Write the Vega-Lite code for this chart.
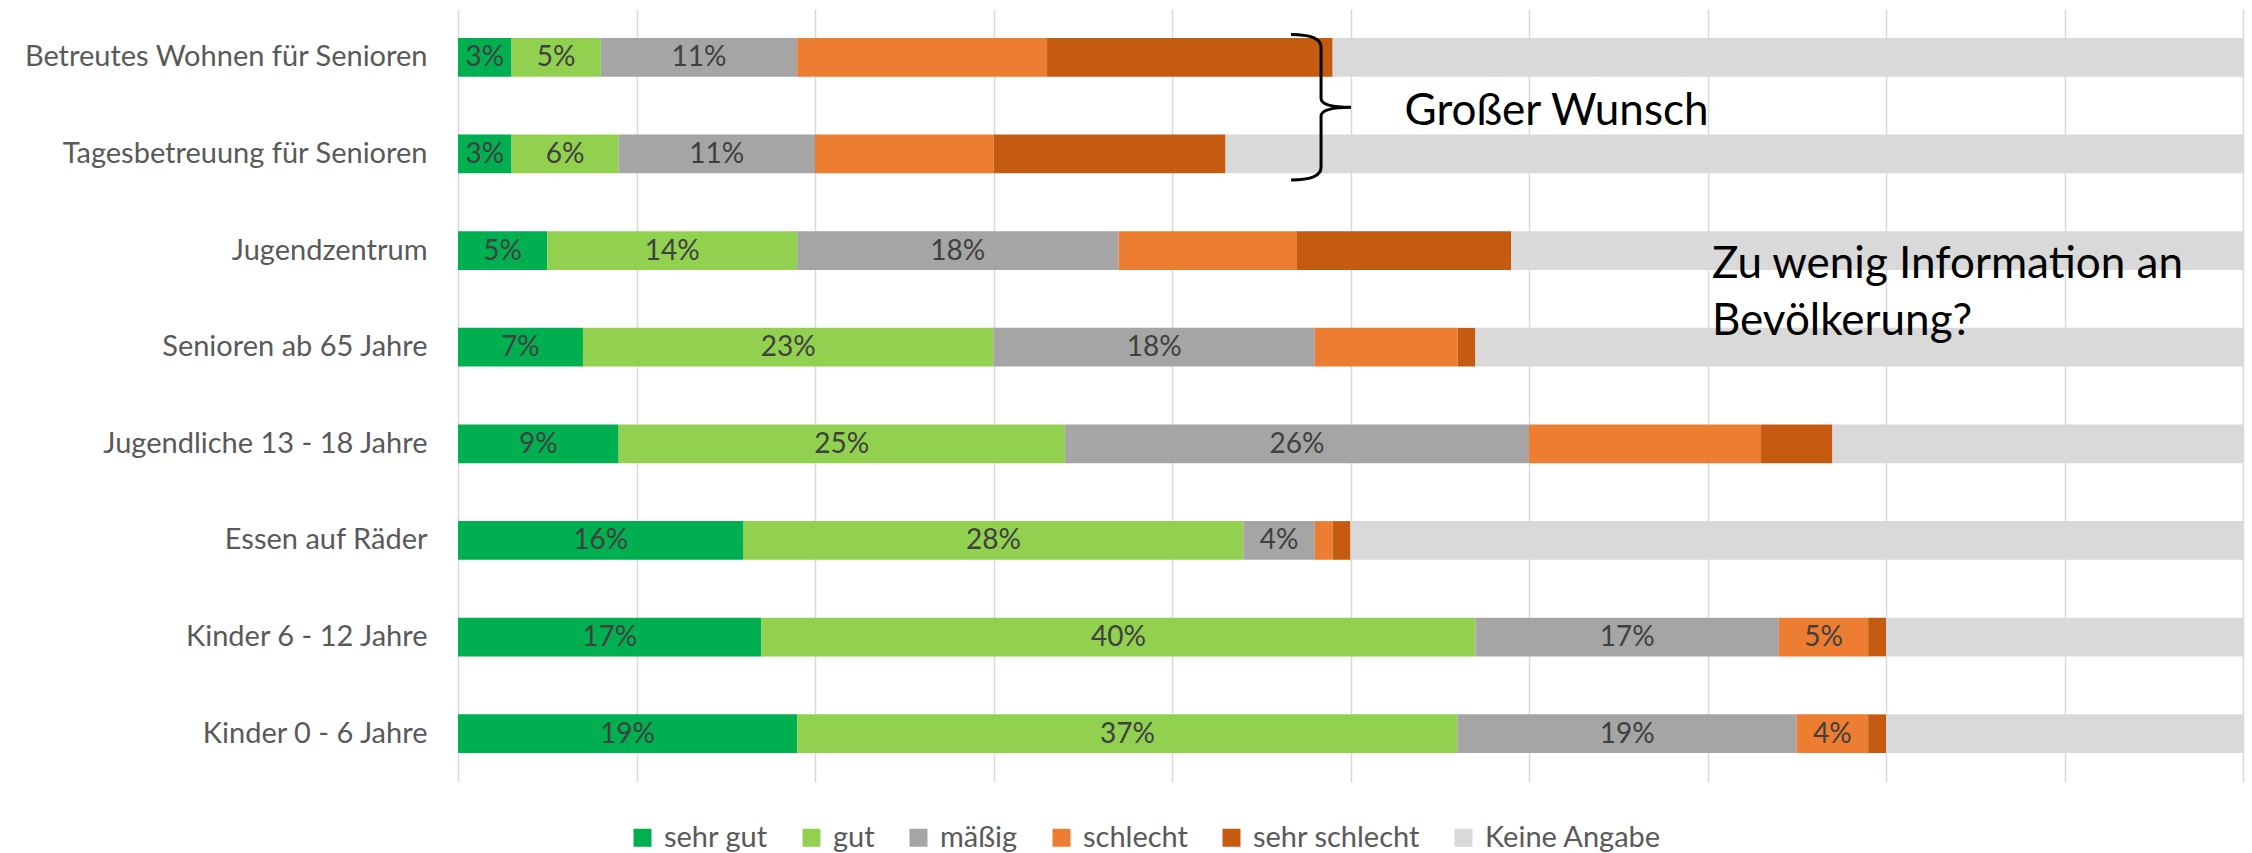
{
  "$schema": "https://vega.github.io/schema/vega-lite/v6.json",
  "width": 1785,
  "height": 773,
  "autosize": {"type": "none"},
  "padding": {"left": 458, "top": 9, "right": 9, "bottom": 71},
  "background": "white",
  "config": {"view": {"stroke": null}, "font": "Lato"},
  "datasets": {
    "umfrage": [
      {"item": "Betreutes Wohnen für Senioren", "bewertung": "sehr gut", "nr": 1, "anteil": 0.03},
      {"item": "Betreutes Wohnen für Senioren", "bewertung": "gut", "nr": 2, "anteil": 0.05},
      {"item": "Betreutes Wohnen für Senioren", "bewertung": "mäßig", "nr": 3, "anteil": 0.11},
      {"item": "Betreutes Wohnen für Senioren", "bewertung": "schlecht", "nr": 4, "anteil": 0.14},
      {"item": "Betreutes Wohnen für Senioren", "bewertung": "sehr schlecht", "nr": 5, "anteil": 0.16},
      {"item": "Betreutes Wohnen für Senioren", "bewertung": "Keine Angabe", "nr": 6, "anteil": 0.51},
      {"item": "Tagesbetreuung für Senioren", "bewertung": "sehr gut", "nr": 1, "anteil": 0.03},
      {"item": "Tagesbetreuung für Senioren", "bewertung": "gut", "nr": 2, "anteil": 0.06},
      {"item": "Tagesbetreuung für Senioren", "bewertung": "mäßig", "nr": 3, "anteil": 0.11},
      {"item": "Tagesbetreuung für Senioren", "bewertung": "schlecht", "nr": 4, "anteil": 0.10},
      {"item": "Tagesbetreuung für Senioren", "bewertung": "sehr schlecht", "nr": 5, "anteil": 0.13},
      {"item": "Tagesbetreuung für Senioren", "bewertung": "Keine Angabe", "nr": 6, "anteil": 0.57},
      {"item": "Jugendzentrum", "bewertung": "sehr gut", "nr": 1, "anteil": 0.05},
      {"item": "Jugendzentrum", "bewertung": "gut", "nr": 2, "anteil": 0.14},
      {"item": "Jugendzentrum", "bewertung": "mäßig", "nr": 3, "anteil": 0.18},
      {"item": "Jugendzentrum", "bewertung": "schlecht", "nr": 4, "anteil": 0.10},
      {"item": "Jugendzentrum", "bewertung": "sehr schlecht", "nr": 5, "anteil": 0.12},
      {"item": "Jugendzentrum", "bewertung": "Keine Angabe", "nr": 6, "anteil": 0.41},
      {"item": "Senioren ab 65 Jahre", "bewertung": "sehr gut", "nr": 1, "anteil": 0.07},
      {"item": "Senioren ab 65 Jahre", "bewertung": "gut", "nr": 2, "anteil": 0.23},
      {"item": "Senioren ab 65 Jahre", "bewertung": "mäßig", "nr": 3, "anteil": 0.18},
      {"item": "Senioren ab 65 Jahre", "bewertung": "schlecht", "nr": 4, "anteil": 0.08},
      {"item": "Senioren ab 65 Jahre", "bewertung": "sehr schlecht", "nr": 5, "anteil": 0.01},
      {"item": "Senioren ab 65 Jahre", "bewertung": "Keine Angabe", "nr": 6, "anteil": 0.43},
      {"item": "Jugendliche 13 - 18 Jahre", "bewertung": "sehr gut", "nr": 1, "anteil": 0.09},
      {"item": "Jugendliche 13 - 18 Jahre", "bewertung": "gut", "nr": 2, "anteil": 0.25},
      {"item": "Jugendliche 13 - 18 Jahre", "bewertung": "mäßig", "nr": 3, "anteil": 0.26},
      {"item": "Jugendliche 13 - 18 Jahre", "bewertung": "schlecht", "nr": 4, "anteil": 0.13},
      {"item": "Jugendliche 13 - 18 Jahre", "bewertung": "sehr schlecht", "nr": 5, "anteil": 0.04},
      {"item": "Jugendliche 13 - 18 Jahre", "bewertung": "Keine Angabe", "nr": 6, "anteil": 0.23},
      {"item": "Essen auf Räder", "bewertung": "sehr gut", "nr": 1, "anteil": 0.16},
      {"item": "Essen auf Räder", "bewertung": "gut", "nr": 2, "anteil": 0.28},
      {"item": "Essen auf Räder", "bewertung": "mäßig", "nr": 3, "anteil": 0.04},
      {"item": "Essen auf Räder", "bewertung": "schlecht", "nr": 4, "anteil": 0.01},
      {"item": "Essen auf Räder", "bewertung": "sehr schlecht", "nr": 5, "anteil": 0.01},
      {"item": "Essen auf Räder", "bewertung": "Keine Angabe", "nr": 6, "anteil": 0.50},
      {"item": "Kinder 6 - 12 Jahre", "bewertung": "sehr gut", "nr": 1, "anteil": 0.17},
      {"item": "Kinder 6 - 12 Jahre", "bewertung": "gut", "nr": 2, "anteil": 0.40},
      {"item": "Kinder 6 - 12 Jahre", "bewertung": "mäßig", "nr": 3, "anteil": 0.17},
      {"item": "Kinder 6 - 12 Jahre", "bewertung": "schlecht", "nr": 4, "anteil": 0.05},
      {"item": "Kinder 6 - 12 Jahre", "bewertung": "sehr schlecht", "nr": 5, "anteil": 0.01},
      {"item": "Kinder 6 - 12 Jahre", "bewertung": "Keine Angabe", "nr": 6, "anteil": 0.20},
      {"item": "Kinder 0 - 6 Jahre", "bewertung": "sehr gut", "nr": 1, "anteil": 0.19},
      {"item": "Kinder 0 - 6 Jahre", "bewertung": "gut", "nr": 2, "anteil": 0.37},
      {"item": "Kinder 0 - 6 Jahre", "bewertung": "mäßig", "nr": 3, "anteil": 0.19},
      {"item": "Kinder 0 - 6 Jahre", "bewertung": "schlecht", "nr": 4, "anteil": 0.04},
      {"item": "Kinder 0 - 6 Jahre", "bewertung": "sehr schlecht", "nr": 5, "anteil": 0.01},
      {"item": "Kinder 0 - 6 Jahre", "bewertung": "Keine Angabe", "nr": 6, "anteil": 0.20}
    ]
  },
  "layer": [
    {
      "data": {"name": "umfrage"},
      "mark": {"type": "bar"},
      "encoding": {
        "y": {
          "field": "item", "type": "nominal",
          "scale": {"domain": ["Betreutes Wohnen für Senioren", "Tagesbetreuung für Senioren", "Jugendzentrum", "Senioren ab 65 Jahre", "Jugendliche 13 - 18 Jahre", "Essen auf Räder", "Kinder 6 - 12 Jahre", "Kinder 0 - 6 Jahre"], "paddingInner": 0.6, "paddingOuter": 0.3},
          "axis": {"title": null, "ticks": false, "domain": false, "grid": false, "labelFont": "Lato", "labelFontSize": 29, "labelColor": "#595959", "labelPadding": 31, "labelLimit": 0}
        },
        "x": {
          "field": "anteil", "type": "quantitative", "stack": "zero",
          "scale": {"domain": [0, 1], "nice": false},
          "axis": {"title": null, "labels": false, "ticks": false, "domain": false, "values": [0, 0.1, 0.2, 0.3, 0.4, 0.5, 0.6, 0.7, 0.8, 0.9, 1], "gridColor": "#D9D9D9", "gridWidth": 1.5}
        },
        "color": {
          "field": "bewertung", "type": "nominal",
          "sort": ["sehr gut", "gut", "mäßig", "schlecht", "sehr schlecht", "Keine Angabe"],
          "scale": {"domain": ["sehr gut", "gut", "mäßig", "schlecht", "sehr schlecht", "Keine Angabe"], "range": ["#00B050", "#92D050", "#A5A5A5", "#ED7D31", "#C55A11", "#D9D9D9"]},
          "legend": {"title": null, "orient": "none", "direction": "horizontal", "legendX": 170, "legendY": 814, "symbolType": "square", "symbolSize": 324, "symbolStrokeWidth": 0, "symbolOpacity": 1, "labelFont": "Lato", "labelFontSize": 29, "labelColor": "#595959", "labelOffset": 7, "labelLimit": 0, "columnPadding": 29, "padding": 0}
        },
        "order": {"field": "nr", "type": "quantitative"}
      }
    },
    {
      "data": {"name": "umfrage"},
      "transform": [{"filter": "indexof(['sehr gut','gut','mäßig'], datum.bewertung) >= 0 || (datum.bewertung == 'schlecht' && indexof(['Kinder 6 - 12 Jahre','Kinder 0 - 6 Jahre'], datum.item) >= 0)"}],
      "mark": {"type": "text", "font": "Lato", "fontSize": 28, "color": "#404040", "baseline": "middle", "dy": 1},
      "encoding": {
        "y": {"field": "item", "type": "nominal"},
        "x": {"field": "anteil", "type": "quantitative", "stack": "zero", "bandPosition": 0.5},
        "text": {"field": "anteil", "type": "quantitative", "format": ".0%"},
        "order": {"field": "nr", "type": "quantitative"}
      }
    },
    {
      "data": {"values": [{"item": "Betreutes Wohnen für Senioren", "pos": 0.4835}]},
      "mark": {"type": "point", "shape": "M-0.4,-0.97Q0,-0.97 0,-0.8L0,-0.12Q0,0 0.4,0Q0,0 0,0.12L0,0.8Q0,0.97 -0.4,0.97", "size": 22500, "filled": false, "stroke": "black", "strokeWidth": 3, "opacity": 1, "yOffset": 50},
      "encoding": {
        "x": {"field": "pos", "type": "quantitative"},
        "y": {"field": "item", "type": "nominal"}
      }
    },
    {
      "data": {"values": [
        {"item": "Betreutes Wohnen für Senioren", "pos": 0.5303, "notiz": "Großer Wunsch", "abstand": 87},
        {"item": "Jugendzentrum", "pos": 0.7025, "notiz": ["Zu wenig Information an", "Bevölkerung?"], "abstand": 47}
      ]},
      "mark": {"type": "text", "font": "Lato", "fontSize": 44, "color": "black", "align": "left", "baseline": "alphabetic", "lineHeight": 57},
      "encoding": {
        "x": {"field": "pos", "type": "quantitative"},
        "y": {"field": "item", "type": "nominal"},
        "yOffset": {"field": "abstand", "type": "quantitative", "scale": null},
        "text": {"field": "notiz"}
      }
    }
  ]
}
